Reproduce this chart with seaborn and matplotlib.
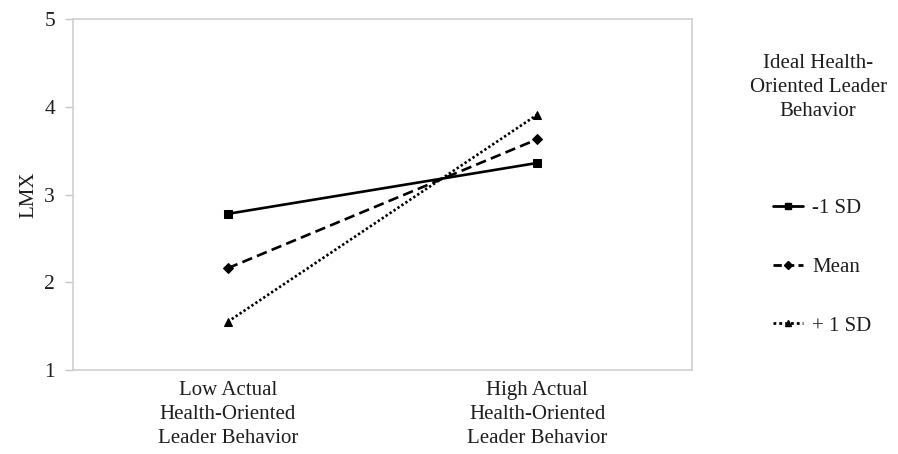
import matplotlib
matplotlib.use("Agg")
import matplotlib.pyplot as plt
import seaborn as sns
import pandas as pd

# Simple slopes of LMX at low / high actual health-oriented leader behavior
categories = ["Low Actual\nHealth-Oriented\nLeader Behavior",
              "High Actual\nHealth-Oriented\nLeader Behavior"]
groups = ["-1 SD", "Mean", "+ 1 SD"]
minus_sd = [2.78, 3.36]
mean_vals = [2.16, 3.63]
plus_sd = [1.55, 3.91]
y_ticks = [1, 2, 3, 4, 5]

rows = []
for g, vals in zip(groups, [minus_sd, mean_vals, plus_sd]):
    for c, v in zip(categories, vals):
        rows.append({"cond": c, "LMX": v, "group": g})
df = pd.DataFrame(rows)

sns.set_theme(style="white")
plt.rcParams["font.family"] = ["Liberation Serif", "DejaVu Serif"]

TXT = "#1e1e1e"
fig = plt.figure(figsize=(8.98, 4.54), dpi=100)
ax = fig.add_axes([0.0813, 0.185, 0.6893, 0.773])

sns.lineplot(data=df, x="cond", y="LMX", hue="group", style="group",
             hue_order=groups, style_order=groups,
             palette={g: "black" for g in groups},
             dashes={"-1 SD": "", "Mean": (4.0, 2.0), "+ 1 SD": (0.9, 0.9)},
             markers={"-1 SD": "s", "Mean": "D", "+ 1 SD": "^"},
             markersize=5.5, linewidth=1.9, markeredgecolor="black",
             ax=ax, legend=False, sort=False)

ax.set_xlim(-0.5, 1.5)
ax.set_ylim(1, 5)
ax.set_yticks(y_ticks)
ax.set_yticklabels([str(t) for t in y_ticks])
ax.set_xlabel("")
ax.set_ylabel("LMX", fontsize=15, color=TXT, labelpad=4)
ax.tick_params(axis="y", labelsize=15.5, colors=TXT, length=6,
               width=1, color="#c8c8c8", left=True, pad=7)
ax.tick_params(axis="x", labelsize=15, colors=TXT, length=0, pad=8)
for lab in ax.get_xticklabels():
    lab.set_linespacing(1.36)
for s in ax.spines.values():
    s.set_color("#cfcfcf")
    s.set_linewidth(1.2)

# Legend with a separate centered title
fig.text(0.911, 0.881, "Ideal Health-\nOriented Leader\nBehavior",
         ha="center", va="top", fontsize=15, color=TXT,
         linespacing=1.36)
handles = [
    plt.Line2D([], [], color="black", lw=2, ls="-", marker="s", markersize=5),
    plt.Line2D([], [], color="black", lw=2, ls=(0, (3, 1.5)), marker="D", markersize=4),
    plt.Line2D([], [], color="black", lw=2, ls=(0, (1, 1.1)), marker="^", markersize=5),
]
fig.legend(handles, groups, loc="upper left", bbox_to_anchor=(0.840, 0.604),
           frameon=False, fontsize=15, handlelength=1.45, handletextpad=0.43,
           labelspacing=1.88, labelcolor=TXT)

fig.savefig("out.png", dpi=100)
